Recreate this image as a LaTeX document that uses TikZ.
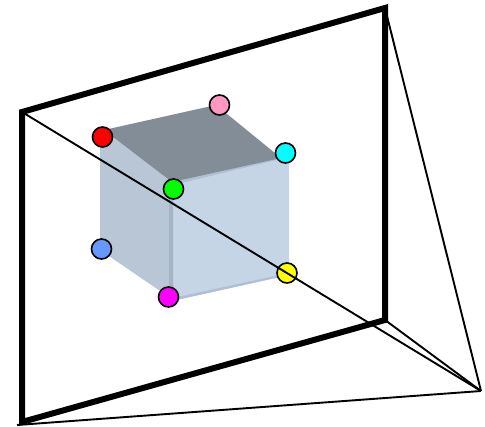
\documentclass[tikz,border=0pt]{standalone}
\definecolor{purecyan}{RGB}{0,255,255}
\definecolor{puremag}{RGB}{255,0,255}
\definecolor{pureyel}{RGB}{255,255,0}
\definecolor{puregrn}{RGB}{0,255,0}
\definecolor{purered}{RGB}{255,0,0}
\definecolor{softpink}{RGB}{255,153,194}
\definecolor{softblue}{RGB}{102,153,255}
\definecolor{faceleft}{RGB}{184,198,213}
\definecolor{faceright}{RGB}{197,213,230}
\definecolor{facetop}{RGB}{130,141,152}
\definecolor{edgedark}{RGB}{166,181,197}
\definecolor{edgelight}{RGB}{176,192,210}
\begin{document}
\begin{tikzpicture}[x=1pt,y=-1pt,
  corner/.style={circle,draw=black,line width=1.6pt,minimum size=20pt,inner sep=0pt},
  ray/.style={line width=1.9pt,draw=black},
  frameline/.style={line width=6pt,draw=black,line join=miter}]
\useasboundingbox (0,0) rectangle (485,427);
% cube faces
\fill[faceleft] (100,137) -- (104,130) -- (173,182) -- (172,299) -- (100,250) -- cycle;
\fill[faceright] (172,182) -- (289,155) -- (289,275) -- (172,301) -- cycle;
\fill[edgedark] (169,186) -- (173,186) -- (173,299) -- (169,297) -- cycle;
\fill[edgelight] (173,180) -- (285,155) -- (289,157) -- (173,185) -- cycle;
\fill[edgelight] (173,298) -- (289,273) -- (289,275) -- (172,301) -- cycle;
\fill[facetop] (104,130) -- (216,105) -- (281,158) -- (172,182) -- cycle;
% frame
\coordinate (fa) at (22,112);
\coordinate (fb) at (385,8);
\coordinate (fc) at (385,320);
\coordinate (fd) at (22,422);
\coordinate (apex) at (481,391);
\coordinate (tail) at (17,425);
\draw[frameline] (fa) -- (fb) -- (fc) -- (fd) -- cycle;
% markers
\node[corner,fill=purered] (red) at (102.5,137) {};
\node[corner,fill=softpink] (pink) at (219.5,105) {};
\node[corner,fill=purecyan] (cy) at (285.5,153) {};
\node[corner,fill=puregrn] (gr) at (173.5,189) {};
\node[corner,fill=softblue] (bl) at (101.5,249) {};
\node[corner,fill=puremag] (mg) at (168.5,297) {};
\node[corner,fill=pureyel] (ye) at (287,273) {};
% rays
\draw[ray] (fa) -- (apex);
\draw[ray] (fb) -- (apex);
\draw[ray] (fc) -- (apex);
\draw[ray] (tail) -- (apex);
\end{tikzpicture}
\end{document}
